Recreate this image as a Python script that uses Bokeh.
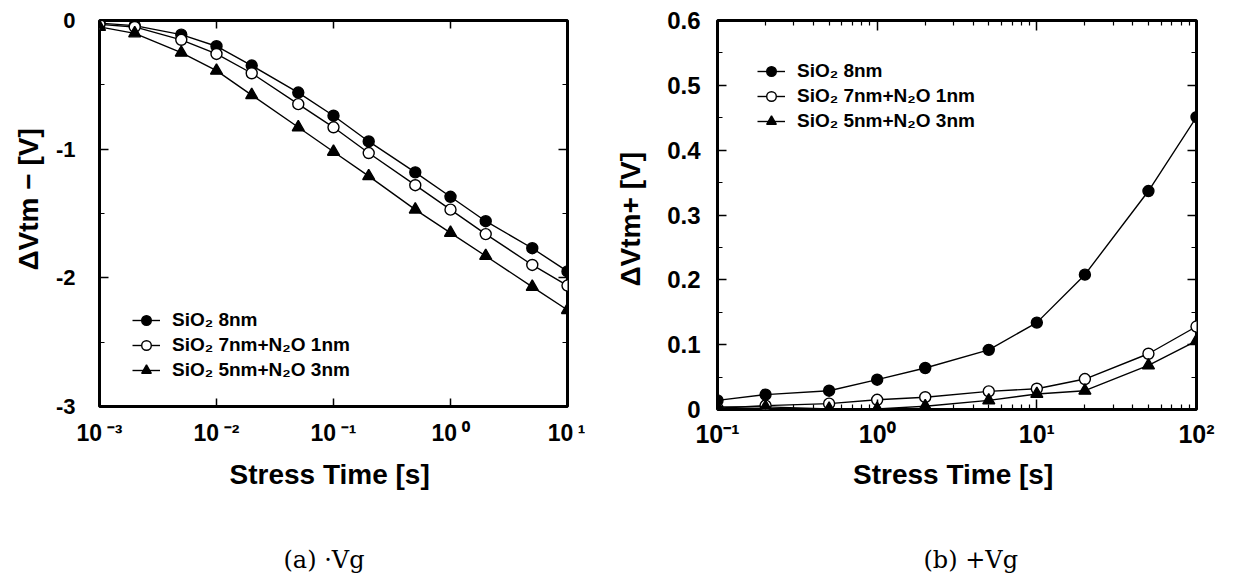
import math
from bokeh.plotting import figure
from bokeh.layouts import row
from bokeh.models import (FixedTicker, LogAxis, LinearAxis,
                          CustomJSTickFormatter, Title, Legend, LegendItem, Range1d)
from bokeh.embed import file_html
from bokeh.resources import INLINE

# ---------------- data ----------------
# (a) -Vg stress
t_neg = [1e-3, 2e-3, 5e-3, 1e-2, 2e-2, 5e-2, 1e-1, 2e-1, 5e-1, 1, 2, 5, 10]
dv_neg_sio2_8 = [-0.02, -0.04, -0.11, -0.20, -0.35, -0.56, -0.74, -0.94, -1.18, -1.37, -1.56, -1.77, -1.95]
dv_neg_sio2_7_n2o_1 = [-0.03, -0.05, -0.15, -0.26, -0.41, -0.65, -0.83, -1.03, -1.28, -1.47, -1.66, -1.90, -2.06]
dv_neg_sio2_5_n2o_3 = [-0.05, -0.10, -0.25, -0.39, -0.58, -0.83, -1.02, -1.21, -1.47, -1.65, -1.83, -2.07, -2.25]

# (b) +Vg stress
t_pos = [0.1, 0.2, 0.5, 1, 2, 5, 10, 20, 50, 100]
dv_pos_sio2_8 = [0.014, 0.023, 0.029, 0.046, 0.064, 0.092, 0.134, 0.208, 0.337, 0.451]
dv_pos_sio2_7_n2o_1 = [0.002, 0.006, 0.009, 0.015, 0.019, 0.028, 0.032, 0.047, 0.086, 0.128]
dv_pos_sio2_5_n2o_3 = [0.004, 0.004, 0.001, 0.001, 0.005, 0.014, 0.024, 0.029, 0.068, 0.106]

series_labels = ["SiO\u2082 8nm", "SiO\u2082 7nm+N\u2082O 1nm", "SiO\u2082 5nm+N\u2082O 3nm"]
x_label = "Stress Time  [s]"
y_label_neg = "\u0394Vtm \u2212  [V]"
y_label_pos = "\u0394Vtm+  [V]"
caption_a = "(a) \u00b7Vg"
caption_b = "(b) +Vg"

y_ticks_a = [-3, -2, -1, 0]
y_minor_a = [-2.5, -1.5, -0.5]
y_ticks_b = [0, 0.1, 0.2, 0.3, 0.4, 0.5, 0.6]
y_minor_b = [0.05, 0.15, 0.25, 0.35, 0.45, 0.55]
x_dec_a = [1e-3, 1e-2, 1e-1, 1, 10]
x_dec_b = [0.1, 1, 10, 100]

FONT = "Liberation Sans"
SERIF = "DejaVu Serif"

SUP_JS = """
const sup = {"-":"\\u207b","0":"\\u2070","1":"\\u00b9","2":"\\u00b2","3":"\\u00b3",
             "4":"\\u2074","5":"\\u2075","6":"\\u2076","7":"\\u2077","8":"\\u2078","9":"\\u2079"};
const e = Math.round(Math.log10(tick));
return "10" + SEP + String(e).split("").map(c => sup[c]).join("");
"""


def log_fmt(sep):
    return CustomJSTickFormatter(code=SUP_JS.replace("SEP", '"%s"' % sep))


def style_axis(ax, size, standoff, major_in=9, minor_in=5):
    ax.axis_line_color = None
    ax.major_tick_in = major_in
    ax.major_tick_out = 0
    ax.minor_tick_in = minor_in
    ax.minor_tick_out = 0
    ax.major_tick_line_width = 1.5
    ax.minor_tick_line_width = 1.2
    ax.major_tick_line_color = "black"
    ax.minor_tick_line_color = "black"
    ax.major_label_text_font = FONT
    ax.major_label_text_font_style = "bold"
    ax.major_label_text_font_size = size
    ax.major_label_text_color = "black"
    ax.major_label_standoff = standoff


def hide_labels(ax):
    ax.major_label_text_font_size = "0px"
    ax.major_label_text_alpha = 0
    ax.major_label_standoff = 0


def base_fig(xr, yr, fw, fh, bl, br, bt, bb):
    p = figure(x_axis_type="log", x_range=xr, y_range=yr,
               frame_width=fw, frame_height=fh,
               min_border_left=bl, min_border_right=br,
               min_border_top=bt, min_border_bottom=bb,
               output_backend="svg", toolbar_location=None)
    p.grid.visible = False
    p.outline_line_color = "black"
    p.outline_line_width = 3
    p.background_fill_color = "white"
    p.border_fill_color = "white"
    return p


def add_series(p, x, ys):
    items = []
    styles = [
        dict(marker="circle", size=11, fill_color="black"),
        dict(marker="circle", size=11, fill_color="white"),
        dict(marker="triangle", size=12, fill_color="black"),
    ]
    for y, st, lab in zip(ys, styles, series_labels):
        lr = p.line(x, y, line_color="black", line_width=1.4)
        sr = p.scatter(x, y, marker=st["marker"], size=st["size"],
                       fill_color=st["fill_color"], line_color="black", line_width=1.4)
        items.append(LegendItem(label=lab, renderers=[lr, sr]))
    return items


def make_legend(items, loc):
    return Legend(items=items, location=loc, border_line_color=None,
                  background_fill_alpha=0, label_text_font=FONT,
                  label_text_font_style="bold", label_text_font_size="19px",
                  label_text_color="black",
                  glyph_width=28, glyph_height=24, label_height=24,
                  spacing=1, padding=0, margin=0, label_standoff=12)


def bold_title(text, size, standoff, offset):
    return Title(text=text, align="left", offset=offset, standoff=standoff,
                 text_font=FONT, text_font_style="bold", text_font_size=size,
                 text_color="black")


def caption(text, standoff, offset):
    return Title(text=text, align="left", offset=offset, standoff=standoff,
                 text_font=SERIF, text_font_style="normal", text_font_size="24px",
                 text_color="black")


# ---------------- (a) ----------------
p1 = base_fig(Range1d(1e-3, 10), Range1d(-3, 0), 468, 386, 99, 18, 20, 175)
xt_a = FixedTicker(ticks=x_dec_a, minor_ticks=[])
yt_a = FixedTicker(ticks=y_ticks_a, minor_ticks=y_minor_a)
p1.xaxis.ticker = xt_a
p1.xaxis.formatter = log_fmt("\u2009")
p1.yaxis.ticker = yt_a
p1.yaxis.formatter = CustomJSTickFormatter(code="return Math.abs(tick) < 1e-9 ? '0' : tick.toFixed(0);")
style_axis(p1.xaxis[0], "23px", 13, major_in=8)
style_axis(p1.yaxis[0], "22px", 24, major_in=9)
p1.xaxis.axis_label = x_label
p1.xaxis.axis_label_text_font = FONT
p1.xaxis.axis_label_text_font_style = "bold"
p1.xaxis.axis_label_text_font_size = "28px"
p1.xaxis.axis_label_text_color = "black"
p1.xaxis.axis_label_standoff = 10

top_a = LogAxis(ticker=xt_a)
style_axis(top_a, "0px", 0, major_in=8)
hide_labels(top_a)
p1.add_layout(top_a, "above")
right_a = LinearAxis(ticker=yt_a)
style_axis(right_a, "0px", 0, major_in=9)
hide_labels(right_a)
p1.add_layout(right_a, "right")

items_a = add_series(p1, t_neg, [dv_neg_sio2_8, dv_neg_sio2_7_n2o_1, dv_neg_sio2_5_n2o_3])
p1.add_layout(make_legend(items_a, (33, 24)))

p1.add_layout(bold_title(y_label_neg, "28px", 17, 136), "left")
p1.add_layout(caption(caption_a, 102, 184), "below")

# ---------------- (b) ----------------
p2 = base_fig(Range1d(0.1, 100), Range1d(0, 0.6), 479, 389, 132, 39, 19, 173)
minor_b = [d * k for d in x_dec_b[:-1] for k in range(2, 10)]
xt_b = FixedTicker(ticks=x_dec_b, minor_ticks=minor_b)
yt_b = FixedTicker(ticks=y_ticks_b, minor_ticks=y_minor_b)
p2.xaxis.ticker = xt_b
p2.xaxis.formatter = log_fmt("")
p2.yaxis.ticker = yt_b
p2.yaxis.formatter = CustomJSTickFormatter(code="return Math.abs(tick) < 1e-9 ? '0' : tick.toFixed(1);")
style_axis(p2.xaxis[0], "25px", 10, major_in=10)
style_axis(p2.yaxis[0], "24px", 17, major_in=9)
p2.xaxis.axis_label = x_label
p2.xaxis.axis_label_text_font = FONT
p2.xaxis.axis_label_text_font_style = "bold"
p2.xaxis.axis_label_text_font_size = "28px"
p2.xaxis.axis_label_text_color = "black"
p2.xaxis.axis_label_standoff = 8

top_b = LogAxis(ticker=xt_b)
style_axis(top_b, "0px", 0, major_in=10)
hide_labels(top_b)
p2.add_layout(top_b, "above")
right_b = LinearAxis(ticker=yt_b)
style_axis(right_b, "0px", 0, major_in=9)
hide_labels(right_b)
p2.add_layout(right_b, "right")

items_b = add_series(p2, t_pos, [dv_pos_sio2_8, dv_pos_sio2_7_n2o_1, dv_pos_sio2_5_n2o_3])
p2.add_layout(make_legend(items_b, (40, 276)))

p2.add_layout(bold_title(y_label_pos, "28px", 38, 123), "left")
p2.add_layout(caption(caption_b, 103, 206), "below")

layout = row(p1, p2)
open("out.html", "w").write(file_html(layout, INLINE))
